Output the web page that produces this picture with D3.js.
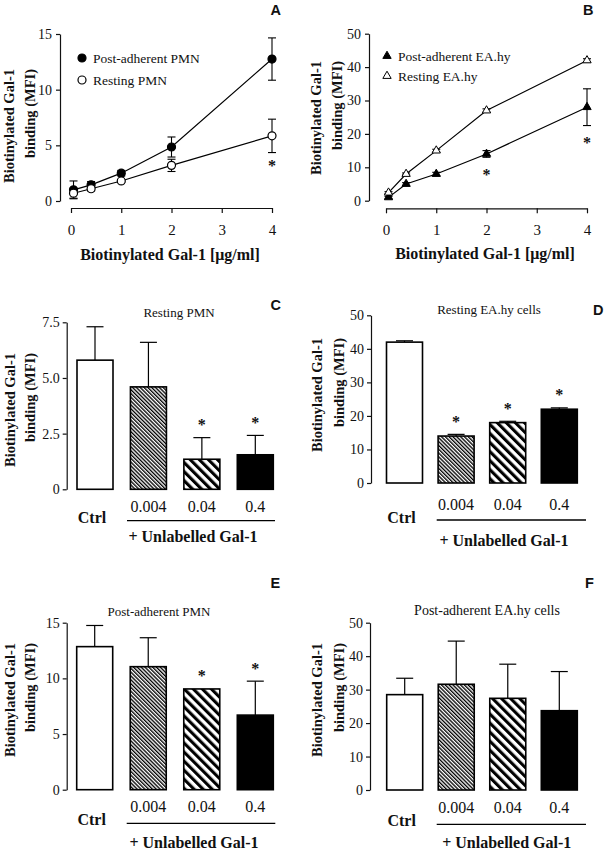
<!DOCTYPE html>
<html><head><meta charset="utf-8">
<script src="https://cdn.jsdelivr.net/npm/d3@7"></script>
<style>body{margin:0;background:#fff} svg text{font-family:"Liberation Serif","Times New Roman",serif}</style>
</head><body>
<svg id="c" width="608" height="853"></svg>
<script>
// ---------- DATA ----------
const doseX = [0.05, 0.4, 1, 2, 4];
const doseTicks = [0, 1, 2, 3, 4];
const pmnPostMean = [1.0, 1.45, 2.5, 4.85, 12.75];
const pmnPostErr  = [0.8, 0.3, 0.25, 0.9, 1.9];
const pmnRestMean = [0.7, 1.1, 1.8, 3.2, 5.85];
const pmnRestErr  = [0.45, 0.2, 0.1, 0.55, 1.5];
const pmnSig      = [0, 0, 0, 0, 1];
const eaPostMean  = [1.0, 5.0, 8.0, 14.0, 28.0];
const eaPostErr   = [0.3, 0.4, 0.5, 1.0, 5.5];
const eaRestMean  = [2.4, 8.0, 15.0, 27.0, 42.0];
const eaRestErr   = [0.3, 0.3, 0.4, 0.5, 0.5];
const eaSig       = [0, 0, 0, 1, 1];

const barCats = ["Ctrl", "0.004", "0.04", "0.4"];
const restPmnMean = [5.8, 4.6, 1.35, 1.55];
const restPmnErr  = [1.5, 2.0, 0.97, 0.87];
const restPmnSig  = [0, 0, 1, 1];
const restEaMean  = [42.0, 14.0, 18.0, 22.0];
const restEaErr   = [0.4, 0.5, 0.4, 0.4];
const restEaSig   = [0, 1, 1, 1];
const postPmnMean = [12.85, 11.05, 9.05, 6.7];
const postPmnErr  = [1.9, 2.6, 0.0, 3.05];
const postPmnSig  = [0, 0, 1, 1];
const postEaMean  = [28.5, 31.6, 27.4, 23.7];
const postEaErr   = [4.9, 12.9, 10.2, 11.7];
const postEaSig   = [0, 0, 0, 0];

const ticksPmnLine = [0, 5, 10, 15];
const ticksEa = [0, 10, 20, 30, 40, 50];
const ticksRestPmn = [0, 2.5, 5, 7.5];
const ticksPostPmn = [0, 5, 10, 15];

// ---------- DRAW ----------
const svg = d3.select("#c");
const SERIF = "'Liberation Serif','Times New Roman',serif";
const SANS = "'Liberation Sans',Arial,sans-serif";
const INK = "#111";

const defs = svg.append("defs");
function hatch(id, period, lw) {
  const p = defs.append("pattern").attr("id", id).attr("patternUnits", "userSpaceOnUse")
    .attr("width", period).attr("height", period).attr("patternTransform", "rotate(-45)");
  p.append("rect").attr("width", period).attr("height", period).attr("fill", "#fff");
  p.append("rect").attr("width", lw).attr("height", period).attr("fill", "#000");
}
hatch("dense", 2.7, 1.35);
hatch("wide", 6.4, 3.1);
const barFills = ["#fff", "url(#dense)", "url(#wide)", "#000"];

function styleAxis(g, fs) {
  g.attr("font-family", null).attr("font-size", null);
  g.select(".domain").attr("stroke", INK).attr("stroke-width", 1.2);
  g.selectAll(".tick line").attr("stroke", INK).attr("stroke-width", 1.2);
  g.selectAll(".tick text").style("font-family", SERIF).style("font-size", fs + "px").attr("fill", INK);
}
function txt(x, y, s, o = {}) {
  return svg.append("text").attr("x", x).attr("y", y).text(s)
    .style("font-family", o.ff || SERIF).style("font-size", (o.fs || 14) + "px")
    .style("font-weight", o.fw || "normal").attr("text-anchor", o.anchor || "start")
    .attr("fill", INK);
}
function yTitle(xs, top, fs) {
  ["Biotinylated Gal-1", "binding (MFI)"].forEach((s, i) => {
    svg.append("text").attr("transform", `translate(${xs[i]},${top}) rotate(-90)`)
      .attr("text-anchor", "end").style("font-family", SERIF).style("font-weight", "bold")
      .style("font-size", fs + "px").attr("fill", INK).text(s);
  });
}
function star(x, yc) {
  txt(x, yc + 7.5, "*", { fs: 16, fw: "bold", anchor: "middle" });
}

function scatterPanel(c) {
  const x = d3.scaleLinear().domain([0, 4]).range(c.xr);
  const y = d3.scaleLinear().domain([0, c.max]).range(c.yr);
  const gy = svg.append("g").attr("transform", `translate(${c.axisX},0)`)
    .call(d3.axisLeft(y).tickValues(c.ticks).tickSize(4).tickPadding(4).tickSizeOuter(0)
      .tickFormat(d3.format("d")));
  styleAxis(gy, 14);
  const gx = svg.append("g").attr("transform", `translate(0,${c.xAxisY})`)
    .call(d3.axisBottom(x).tickValues(doseTicks).tickSize(5).tickSizeOuter(0)
      .tickFormat(d3.format("d")));
  styleAxis(gx, 15);
  gx.selectAll(".tick text").attr("y", 27).attr("dy", 0);

  const sym = (filled, g, px, py) => {
    if (c.shape === "circle") {
      g.append("circle").attr("cx", px).attr("cy", py).attr("r", 4)
        .attr("fill", filled ? "#000" : "#fff").attr("stroke", "#000").attr("stroke-width", 1.2);
    } else {
      g.append("path").attr("d", d3.symbol(d3.symbolTriangle, 30)())
        .attr("transform", `translate(${px},${py})`)
        .attr("fill", filled ? "#000" : "#fff").attr("stroke", "#000").attr("stroke-width", 1);
    }
  };
  const g = svg.append("g");
  c.series.forEach(s => {
    g.append("path").datum(s.mean)
      .attr("d", d3.line().x((d, i) => x(doseX[i])).y(d => y(d)))
      .attr("fill", "none").attr("stroke", "#000").attr("stroke-width", 1.2);
  });
  c.series.forEach(s => {
    s.mean.forEach((m, i) => {
      const e = s.err[i], px = x(doseX[i]);
      if (e <= 0) return;
      g.append("line").attr("x1", px).attr("x2", px).attr("y1", y(m - e)).attr("y2", y(m + e))
        .attr("stroke", "#000").attr("stroke-width", 1.1);
      [m - e, m + e].forEach(v => g.append("line").attr("x1", px - 4).attr("x2", px + 4)
        .attr("y1", y(v)).attr("y2", y(v)).attr("stroke", "#000").attr("stroke-width", 1.1));
    });
  });
  c.series.forEach(s => s.mean.forEach((m, i) => sym(s.filled, g, x(doseX[i]), y(m))));
  c.sig.forEach((f, i) => {
    if (!f) return;
    const lo = d3.min(c.series, s => s.mean[i] - s.err[i]);
    star(x(doseX[i]), y(lo) + c.starOff);
  });
  c.series.forEach((s, i) => {
    sym(s.filled, g, c.legX, c.legY[i]);
    txt(c.legX + 11, c.legY[i] + 4.5, s.name, { fs: 13.5 });
  });
  txt(c.xTitle[0], c.xTitle[1], "Biotinylated Gal-1 [\u03bcg/ml]", { fs: 16, fw: "bold", anchor: "middle" });
  yTitle(c.yTitleX, c.yTitleTop, 14.5);
  txt(c.letter[1], c.letter[2], c.letter[0], { ff: SANS, fs: 14.5, fw: "bold" });
}

function barPanel(c) {
  const bw = 36, W = c.x1 - c.x0, n = barCats.length;
  const pad = (n * bw - W) / (bw - W);
  const x = d3.scaleBand().domain(barCats).range([c.x0, c.x1]).paddingInner(pad).paddingOuter(0);
  const y = d3.scaleLinear().domain([0, c.max]).range([c.y0, c.y1]);
  const gy = svg.append("g").attr("transform", `translate(${c.axisX},0)`)
    .call(d3.axisLeft(y).tickValues(c.ticks).tickSize(4).tickPadding(3).tickSizeOuter(0)
      .tickFormat(c.fmt || d3.format("d")));
  styleAxis(gy, 14);
  const g = svg.append("g");
  barCats.forEach((cat, i) => {
    const cx = x(cat) + x.bandwidth() / 2, m = c.mean[i], e = c.err[i];
    if (e > 0) {
      g.append("line").attr("x1", cx).attr("x2", cx).attr("y1", y(m)).attr("y2", y(m + e))
        .attr("stroke", "#000").attr("stroke-width", 1.2);
      g.append("line").attr("x1", cx - 8.5).attr("x2", cx + 8.5).attr("y1", y(m + e)).attr("y2", y(m + e))
        .attr("stroke", "#000").attr("stroke-width", 1.2);
    }
    g.append("rect").attr("x", x(cat)).attr("y", y(m)).attr("width", x.bandwidth())
      .attr("height", y(0) - y(m)).attr("fill", barFills[i]).attr("stroke", "#000").attr("stroke-width", 1.6);
    if (c.sig[i]) star(cx, y(m + e) - 15);
    if (i === 0) txt(cx - 3, c.ctrlY, cat, { fs: 16, fw: "bold", anchor: "middle" });
    else txt(cx, c.catY, cat, { fs: 16, anchor: "middle" });
  });
  svg.append("line").attr("x1", c.lineX[0]).attr("x2", c.lineX[1]).attr("y1", c.lineY).attr("y2", c.lineY)
    .attr("stroke", "#000").attr("stroke-width", 1.3);
  txt(c.unl[0], c.unl[1], "+ Unlabelled Gal-1", { fs: 16, fw: "bold", anchor: "middle" });
  txt(c.title[1], c.title[2], c.title[0], { fs: c.titleFs || 13, anchor: "middle" });
  yTitle(c.yTitleX, c.yTitleTop, 14.5);
  txt(c.letter[1], c.letter[2], c.letter[0], { ff: SANS, fs: 14.5, fw: "bold" });
}

scatterPanel({
  xr: [71, 272], yr: [201, 34], max: 15, ticks: ticksPmnLine, axisX: 60, xAxisY: 208,
  shape: "circle", sig: pmnSig, starOff: 10.5,
  series: [
    { name: "Post-adherent PMN", mean: pmnPostMean, err: pmnPostErr, filled: true },
    { name: "Resting PMN", mean: pmnRestMean, err: pmnRestErr, filled: false }
  ],
  legX: 82, legY: [58, 80], xTitle: [170, 260], yTitleX: [14, 35], yTitleTop: 69,
  letter: ["A", 270.5, 15]
});
scatterPanel({
  xr: [386, 587], yr: [200.7, 33.7], max: 50, ticks: ticksEa, axisX: 369, xAxisY: 208.3,
  shape: "triangle", sig: eaSig, starOff: 15,
  series: [
    { name: "Post-adherent EA.hy", mean: eaPostMean, err: eaPostErr, filled: true },
    { name: "Resting EA.hy", mean: eaRestMean, err: eaRestErr, filled: false }
  ],
  legX: 387, legY: [56, 76], xTitle: [485, 259], yTitleX: [320.5, 342], yTitleTop: 61,
  letter: ["B", 583, 15]
});
barPanel({
  mean: restPmnMean, err: restPmnErr, sig: restPmnSig, x0: 77, x1: 273.3, axisX: 66.7,
  y0: 489.3, y1: 322.3, max: 7.5, ticks: ticksRestPmn, fmt: d => d === 0 ? "0" : d.toFixed(1),
  title: ["Resting PMN", 179, 317], letter: ["C", 270.5, 310], yTitleX: [14.5, 35], yTitleTop: 353,
  catY: 512, ctrlY: 523, lineY: 520.7, lineX: [127, 275], unl: [193, 542]
});
barPanel({
  mean: restEaMean, err: restEaErr, sig: restEaSig, x0: 386.5, x1: 577.3, axisX: 371,
  y0: 483, y1: 315.3, max: 50, ticks: ticksEa,
  title: ["Resting EA.hy cells", 489, 314], letter: ["D", 593, 315], yTitleX: [322, 344], yTitleTop: 338,
  catY: 510, ctrlY: 523, lineY: 520, lineX: [436.7, 586], unl: [504, 546]
});
barPanel({
  mean: postPmnMean, err: postPmnErr, sig: postPmnSig, x0: 76.7, x1: 273.3, axisX: 66.7,
  y0: 789.7, y1: 622.7, max: 15, ticks: ticksPostPmn,
  title: ["Post-adherent PMN", 159, 616], letter: ["E", 270.5, 588], yTitleX: [14.5, 35], yTitleTop: 643,
  catY: 812, ctrlY: 825, lineY: 823.3, lineX: [126.7, 275.3], unl: [194, 848]
});
barPanel({
  mean: postEaMean, err: postEaErr, sig: postEaSig, x0: 386.7, x1: 577.3, axisX: 370,
  y0: 790, y1: 622.7, max: 50, ticks: ticksEa, titleFs: 14,
  title: ["Post-adherent EA.hy cells", 487, 615], letter: ["F", 585, 588], yTitleX: [322, 344], yTitleTop: 643,
  catY: 813, ctrlY: 826, lineY: 824.3, lineX: [436.7, 586], unl: [506.7, 848]
});
</script>
</body></html>
